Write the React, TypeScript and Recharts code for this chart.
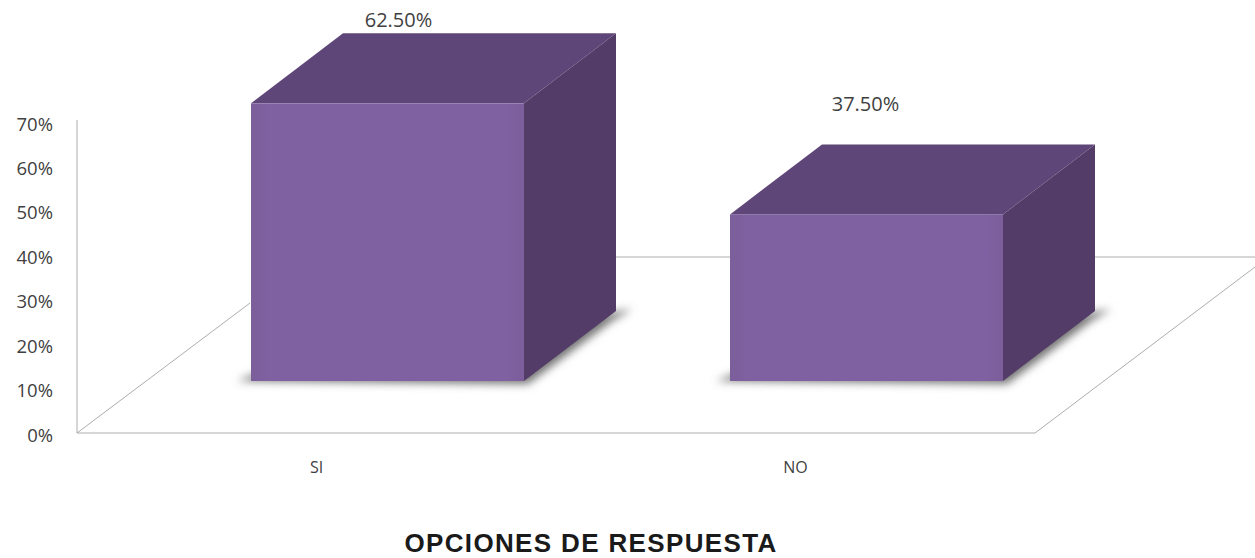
import React from 'react'
import { BarChart, Bar, XAxis, YAxis, LabelList } from 'recharts'

const categories = ['SI', 'NO']
const percentages = [62.5, 37.5]
const yTicks = [0, 10, 20, 30, 40, 50, 60, 70]

const chartData = categories.map((name, i) => ({ name, value: percentages[i] }))

const WIDTH = 1255
const HEIGHT = 558
const PLOT_LEFT = 77
const PLOT_RIGHT = 1035
const PLOT_TOP = 122
const PLOT_BOTTOM = 433

// the front face sits forward of the band, the box runs back by DEPTH
const SHIFT_X = 71
const SHIFT_Y = -52
const DEPTH_X = 92
const DEPTH_Y = -70

const FONT = '"Open Sans", sans-serif'
const TEXT = '#3f3f3f'
const GRID = '#adadad'

const labelNudge = [{ dx: 11, dy: -128 }, { dx: -1, dy: -155 }]

const Floor = () => (
  <g stroke={GRID} strokeWidth={1} fill="none">
    <line x1={PLOT_LEFT} y1={120} x2={PLOT_LEFT} y2={PLOT_TOP} />
    <line x1={PLOT_LEFT} y1={PLOT_BOTTOM} x2={250} y2={303} />
    <line x1={PLOT_RIGHT} y1={PLOT_BOTTOM} x2={WIDTH} y2={267} />
    <line x1={600} y1={257} x2={WIDTH} y2={257} />
  </g>
)

const Box = ({ x, y, width, height }: { x: number; y: number; width: number; height: number }) => {
  const l = x + SHIFT_X
  const r = l + width
  const t = y + SHIFT_Y
  const b = t + height
  const rx = r + DEPTH_X
  return (
    <g>
      <polygon
        points={`${l - 14},${b} ${l + 4},${b - 7} ${rx + 16},${b + DEPTH_Y - 2} ${rx - 4},${b + DEPTH_Y + 10} ${r + 4},${b + 3}`}
        fill="#757575"
        filter="url(#boxShadow)"
      />
      <polygon points={`${l},${t} ${r},${t} ${rx},${t + DEPTH_Y} ${l + DEPTH_X},${t + DEPTH_Y}`} fill="#5f4679" />
      <polygon points={`${r},${t} ${rx},${t + DEPTH_Y} ${rx},${b + DEPTH_Y} ${r},${b}`} fill="#533c67" />
      <rect x={l} y={t} width={width} height={height} fill="url(#boxFront)" />
    </g>
  )
}

const ValueLabel = ({ x, y, width, value, index }: any) => (
  <text
    x={x + SHIFT_X + width / 2 + labelNudge[index].dx}
    y={y + labelNudge[index].dy}
    textAnchor="middle"
    fontFamily={FONT}
    fontSize={20}
    fill={TEXT}
  >
    {`${Number(value).toFixed(2)}%`}
  </text>
)

const CategoryTick = ({ x, y, payload }: any) => (
  <text x={x} y={y + 6} textAnchor="middle" fontFamily={FONT} fontSize={16} fill={TEXT}>
    {payload.value}
  </text>
)

export default function App() {
  return (
    <div style={{ position: 'absolute', left: 0, top: 0, width: WIDTH, height: HEIGHT, background: '#fff' }}>
      <BarChart
        width={WIDTH}
        height={HEIGHT}
        data={chartData}
        margin={{ top: PLOT_TOP, right: WIDTH - PLOT_RIGHT, bottom: 0, left: 0 }}
        barSize={273}
      >
        <defs>
          <linearGradient id="boxFront" x1="0" y1="0" x2="1" y2="0">
            <stop offset="0%" stopColor="#7c5e9b" />
            <stop offset="6%" stopColor="#7f60a0" />
            <stop offset="94%" stopColor="#7f60a0" />
            <stop offset="100%" stopColor="#7c5e9b" />
          </linearGradient>
          <filter id="boxShadow" x="-10%" y="-30%" width="120%" height="160%">
            <feGaussianBlur stdDeviation="4" />
          </filter>
        </defs>
        <Floor />
        <XAxis
          dataKey="name"
          height={HEIGHT - PLOT_BOTTOM}
          axisLine={{ stroke: GRID }}
          tickLine={false}
          tickMargin={28}
          tick={<CategoryTick />}
          label={{
            value: 'OPCIONES DE RESPUESTA',
            position: 'insideBottom',
            offset: 6,
            dx: 35,
            fontFamily: '"Liberation Sans", Arial, sans-serif',
            fontWeight: 700,
            fontSize: 26,
            letterSpacing: 1.35,
            fill: '#1a1a1a',
          }}
        />
        <YAxis
          width={PLOT_LEFT}
          domain={[0, 70]}
          ticks={yTicks}
          interval={0}
          tickFormatter={(v: number) => `${v}%`}
          axisLine={{ stroke: GRID }}
          tickLine={false}
          tickMargin={18}
          tick={{ fontFamily: FONT, fontSize: 18.5, fill: TEXT, dy: 2 }}
        />
        <Bar dataKey="value" isAnimationActive={false} shape={(p: any) => <Box {...p} />}>
          <LabelList dataKey="value" content={<ValueLabel />} />
        </Bar>
      </BarChart>
    </div>
  )
}
